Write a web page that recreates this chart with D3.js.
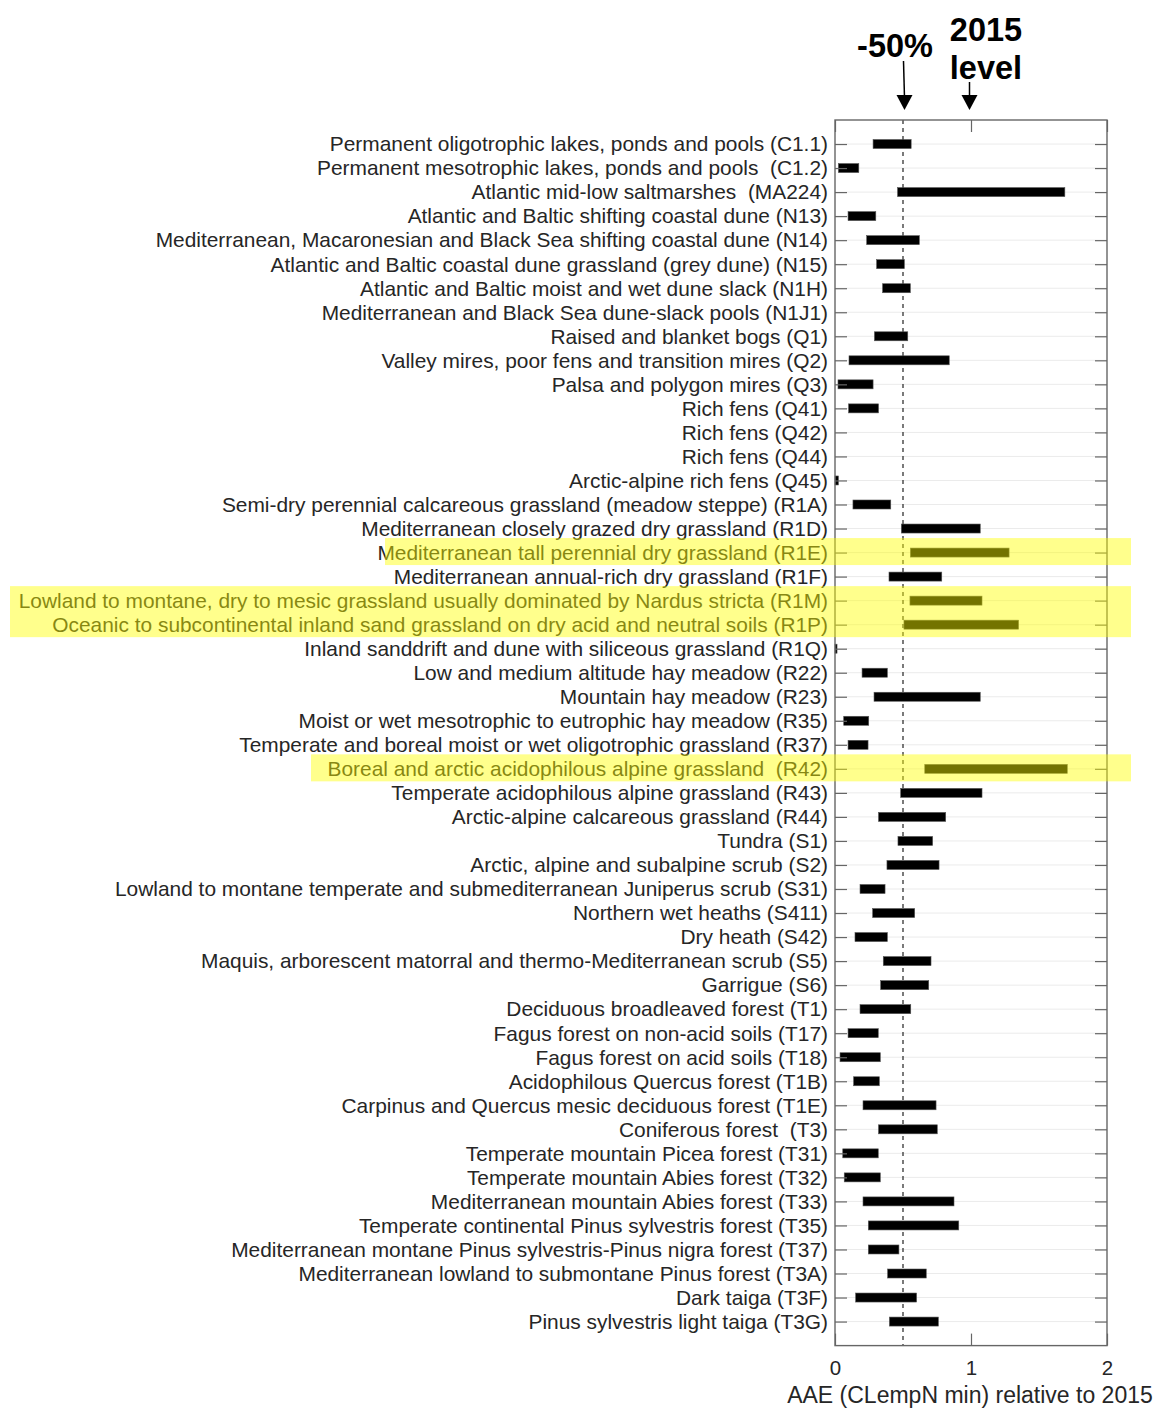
<!DOCTYPE html>
<html>
<head>
<meta charset="utf-8">
<script src="https://cdn.jsdelivr.net/npm/d3@7/dist/d3.min.js"></script>
<style>
  body { margin: 0; background: #fff; }
  text { font-family: "Liberation Sans", Arial, sans-serif; white-space: pre; }
</style>
</head>
<body>
<svg id="chart" width="1158" height="1408"></svg>
<script>
// habitat types, top to bottom
const habitats = [
  "Permanent oligotrophic lakes, ponds and pools (C1.1)",
  "Permanent mesotrophic lakes, ponds and pools  (C1.2)",
  "Atlantic mid-low saltmarshes  (MA224)",
  "Atlantic and Baltic shifting coastal dune (N13)",
  "Mediterranean, Macaronesian and Black Sea shifting coastal dune (N14)",
  "Atlantic and Baltic coastal dune grassland (grey dune) (N15)",
  "Atlantic and Baltic moist and wet dune slack (N1H)",
  "Mediterranean and Black Sea dune-slack pools (N1J1)",
  "Raised and blanket bogs (Q1)",
  "Valley mires, poor fens and transition mires (Q2)",
  "Palsa and polygon mires (Q3)",
  "Rich fens (Q41)",
  "Rich fens (Q42)",
  "Rich fens (Q44)",
  "Arctic-alpine rich fens (Q45)",
  "Semi-dry perennial calcareous grassland (meadow steppe) (R1A)",
  "Mediterranean closely grazed dry grassland (R1D)",
  "Mediterranean tall perennial dry grassland (R1E)",
  "Mediterranean annual-rich dry grassland (R1F)",
  "Lowland to montane, dry to mesic grassland usually dominated by Nardus stricta (R1M)",
  "Oceanic to subcontinental inland sand grassland on dry acid and neutral soils (R1P)",
  "Inland sanddrift and dune with siliceous grassland (R1Q)",
  "Low and medium altitude hay meadow (R22)",
  "Mountain hay meadow (R23)",
  "Moist or wet mesotrophic to eutrophic hay meadow (R35)",
  "Temperate and boreal moist or wet oligotrophic grassland (R37)",
  "Boreal and arctic acidophilous alpine grassland  (R42)",
  "Temperate acidophilous alpine grassland (R43)",
  "Arctic-alpine calcareous grassland (R44)",
  "Tundra (S1)",
  "Arctic, alpine and subalpine scrub (S2)",
  "Lowland to montane temperate and submediterranean Juniperus scrub (S31)",
  "Northern wet heaths (S411)",
  "Dry heath (S42)",
  "Maquis, arborescent matorral and thermo-Mediterranean scrub (S5)",
  "Garrigue (S6)",
  "Deciduous broadleaved forest (T1)",
  "Fagus forest on non-acid soils (T17)",
  "Fagus forest on acid soils (T18)",
  "Acidophilous Quercus forest (T1B)",
  "Carpinus and Quercus mesic deciduous forest (T1E)",
  "Coniferous forest  (T3)",
  "Temperate mountain Picea forest (T31)",
  "Temperate mountain Abies forest (T32)",
  "Mediterranean mountain Abies forest (T33)",
  "Temperate continental Pinus sylvestris forest (T35)",
  "Mediterranean montane Pinus sylvestris-Pinus nigra forest (T37)",
  "Mediterranean lowland to submontane Pinus forest (T3A)",
  "Dark taiga (T3F)",
  "Pinus sylvestris light taiga (T3G)"
];

// range ends (null = no bar)
const lowVals = [0.28, 0.025, 0.46, 0.096, 0.233, 0.306, 0.35, null, 0.29, 0.103,
  0.022, 0.10, null, null, 0.0, 0.132, 0.488, 0.554, 0.397, 0.551,
  0.507, 0.0, 0.199, 0.287, 0.064, 0.096, 0.66, 0.483, 0.32, 0.463,
  0.382, 0.184, 0.277, 0.147, 0.355, 0.336, 0.184, 0.096, 0.037, 0.137,
  0.206, 0.32, 0.057, 0.068, 0.206, 0.245, 0.245, 0.387, 0.152, 0.40];
const highVals = [0.56, 0.175, 1.69, 0.30, 0.62, 0.51, 0.554, null, 0.535, 0.84,
  0.28, 0.32, null, null, 0.025, 0.41, 1.068, 1.28, 0.785, 1.081,
  1.35, 0.015, 0.385, 1.068, 0.248, 0.243, 1.708, 1.081, 0.814, 0.718,
  0.765, 0.368, 0.586, 0.385, 0.706, 0.689, 0.557, 0.318, 0.333, 0.326,
  0.743, 0.752, 0.318, 0.333, 0.875, 0.91, 0.47, 0.671, 0.60, 0.76];

// highlighted groups of rows (first index, last index, left edge of box)
const highlightRows = [[17, 17, 385], [19, 20, 10], [26, 26, 311]];

const xTicks = [0, 1, 2];
const refHalf = 0.5;
const refFull = 1;

const svg = d3.select('#chart');
const pLeft = 835, pRight = 1107, pTop = 120, pBottom = 1345.6;

const x = d3.scaleLinear().domain([0, 2]).range([pLeft, pRight]);
const y = d3.scaleLinear().domain([0, habitats.length + 1]).range([pTop, pBottom]);

const ink = '#262626';
const g = svg.append('g');

// faint row gridlines
g.selectAll('line.grid')
  .data(habitats)
  .enter().append('line')
  .attr('x1', pLeft).attr('x2', pRight)
  .attr('y1', (d, i) => y(i + 1)).attr('y2', (d, i) => y(i + 1))
  .attr('stroke', '#ebebeb').attr('stroke-width', 1);

// dashed -50% line
g.append('line')
  .attr('x1', x(refHalf)).attr('x2', x(refHalf))
  .attr('y1', pTop).attr('y2', pBottom)
  .attr('stroke', '#333').attr('stroke-width', 1.3)
  .attr('stroke-dasharray', '4,4');

// bars
const rows = habitats.map((h, i) => ({ name: h, lo: lowVals[i], hi: highVals[i], i }))
  .filter(d => d.lo !== null);
g.selectAll('rect.bar')
  .data(rows)
  .enter().append('rect')
  .attr('x', d => x(d.lo))
  .attr('width', d => Math.max(1.5, x(d.hi) - x(d.lo)))
  .attr('y', d => y(d.i + 1) - 4.5)
  .attr('height', 9)
  .attr('fill', '#000')
  .attr('stroke', '#555').attr('stroke-width', 0.6);

// y axes (left and right, inward ticks)
const yAxisL = d3.axisLeft(y).tickValues(d3.range(1, habitats.length + 1))
  .tickSize(-12).tickFormat('');
const yAxisR = d3.axisRight(y).tickValues(d3.range(1, habitats.length + 1))
  .tickSize(-12).tickFormat('');
const xAxisB = d3.axisBottom(x).tickValues(xTicks).tickSize(-12).tickPadding(15)
  .tickFormat(d3.format('d'));
const xAxisT = d3.axisTop(x).tickValues(xTicks).tickSize(-12).tickFormat('');

function style(sel) {
  sel.select('.domain').remove();
  sel.selectAll('line').attr('stroke', '#666').attr('stroke-width', 1.2);
  sel.selectAll('text').attr('fill', ink).style('font-size', '20.5px');
}
g.append('g').attr('transform', `translate(${pLeft},0)`).call(yAxisL).call(style);
g.append('g').attr('transform', `translate(${pRight},0)`).call(yAxisR).call(style);
g.append('g').attr('transform', `translate(0,${pBottom})`).call(xAxisB).call(style);
g.append('g').attr('transform', `translate(0,${pTop})`).call(xAxisT).call(style);

// plot box
g.append('rect')
  .attr('x', pLeft).attr('y', pTop)
  .attr('width', pRight - pLeft).attr('height', pBottom - pTop)
  .attr('fill', 'none').attr('stroke', '#666').attr('stroke-width', 1.4);

// y labels
g.selectAll('text.lab')
  .data(habitats)
  .enter().append('text')
  .attr('x', pLeft - 7)
  .attr('y', (d, i) => y(i + 1))
  .attr('dy', '0.35em')
  .attr('text-anchor', 'end')
  .attr('fill', ink)
  .style('font-size', '20.9px')
  .text(d => d);

// x label
g.append('text')
  .attr('x', x(1) - 1)
  .attr('y', 1403)
  .attr('text-anchor', 'middle')
  .attr('fill', ink)
  .style('font-size', '23px')
  .text('AAE (CLempN min) relative to 2015');

// annotations
const ann = svg.append('g');
ann.append('text').attr('x', 895).attr('y', 57).attr('text-anchor', 'middle')
  .style('font-size', '32.5px').style('font-weight', 'bold').attr('fill', '#000').text('-50%');
ann.append('text').attr('x', 986).attr('y', 41).attr('text-anchor', 'middle')
  .style('font-size', '32.5px').style('font-weight', 'bold').attr('fill', '#000').text('2015');
ann.append('text').attr('x', 986).attr('y', 79).attr('text-anchor', 'middle')
  .style('font-size', '32.5px').style('font-weight', 'bold').attr('fill', '#000').text('level');

function arrow(x0, y0, x1, y1) {
  ann.append('line').attr('x1', x0).attr('y1', y0).attr('x2', x1).attr('y2', y1 - 12)
    .attr('stroke', '#000').attr('stroke-width', 1.5);
  ann.append('path')
    .attr('d', `M${x1 - 8},${y1 - 15} L${x1 + 8},${y1 - 15} L${x1},${y1} Z`)
    .attr('fill', '#000');
}
arrow(903.5, 61, x(refHalf) + 1.5, 110);
arrow(x(refFull) - 1.5, 82, x(refFull) - 1.5, 110);

// yellow highlight overlays
svg.append('g').selectAll('rect')
  .data(highlightRows)
  .enter().append('rect')
  .attr('x', d => d[2])
  .attr('y', d => y(d[0] + 1) - 14.5)
  .attr('width', d => 1131 - d[2])
  .attr('height', d => y(d[1] + 1) - y(d[0] + 1) + 27)
  .attr('fill', '#ffff00')
  .attr('opacity', 0.45);
</script>
</body>
</html>
